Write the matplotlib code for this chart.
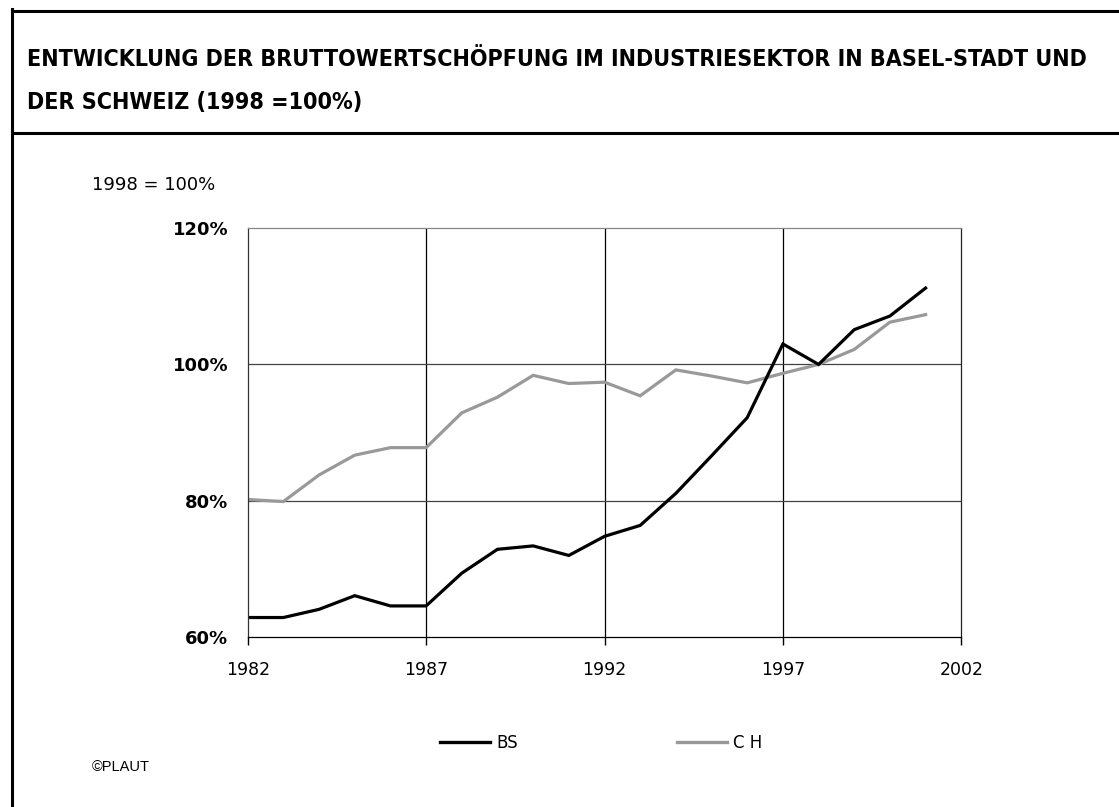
import matplotlib
matplotlib.use("Agg")
import matplotlib.pyplot as plt
from matplotlib.lines import Line2D

# data (index 1998 = 100%)
years = list(range(1982, 2002))
bs = [62.9, 62.9, 64.1, 66.1, 64.6, 64.6, 69.4, 72.9, 73.4, 72.0,
      74.8, 76.4, 81.1, 86.6, 92.2, 103.0, 100.0, 105.1, 107.1, 111.2]
ch = [80.2, 79.9, 83.8, 86.7, 87.8, 87.8, 92.9, 95.2, 98.4, 97.2,
      97.4, 95.4, 99.2, 98.3, 97.3, 98.7, 100.0, 102.2, 106.2, 107.3]
xticks = [1982, 1987, 1992, 1997, 2002]
yticks = [60, 80, 100, 120]
series_names = ["BS", "C H"]
title_lines = ["ENTWICKLUNG DER BRUTTOWERTSCHÖPFUNG IM INDUSTRIESEKTOR IN BASEL-STADT UND",
               "DER SCHWEIZ (1998 =100%)"]

W, H = 1119, 807
fig = plt.figure(figsize=(W / 100, H / 100), dpi=100)

# outer frame and header divider
fig.add_artist(Line2D([11.5 / W, 11.5 / W], [0, 1 - 9 / H], color="black", lw=2.2))
fig.add_artist(Line2D([11.5 / W, 1], [1 - 10.5 / H, 1 - 10.5 / H], color="black", lw=2.2))
fig.add_artist(Line2D([11.5 / W, 1], [1 - 133 / H, 1 - 133 / H], color="black", lw=2.2))

for txt, yc in zip(title_lines, [57.5, 100.5]):
    fig.text(27 / W, 1 - yc / H, txt, fontsize=16.7, fontweight="bold",
             family="DejaVu Sans", stretch="condensed", va="center_baseline", ha="left")

left, right = 247.7 / W, 961.3 / W
top, bottom = 1 - 228 / H, 1 - 637.3 / H
ax = fig.add_axes([left, bottom, right - left, top - bottom])

ax.plot(years, ch, color="#999999", lw=2.3, solid_joinstyle="miter", label=series_names[1])
ax.plot(years, bs, color="black", lw=2.3, solid_joinstyle="miter", label=series_names[0])

ax.set_xlim(1982, 2002)
ax.set_ylim(60, 120)
ax.set_xticks(xticks)
ax.set_yticks(yticks)
ax.set_yticklabels([f"{v}%" for v in yticks], fontweight="bold", fontsize=13)
ax.set_xticklabels([str(v) for v in xticks], fontsize=12.5)
ax.tick_params(axis="y", length=0, pad=14)
ax.tick_params(axis="x", length=6, width=1, direction="out", pad=11, color="black")

for v in [1987, 1992, 1997]:
    ax.axvline(v, color="black", lw=0.9, zorder=0)
for v in [80, 100]:
    ax.axhline(v, color="#444444", lw=0.9, zorder=0)
ax.spines["left"].set_color("#333333")
ax.spines["bottom"].set_color("black")
ax.spines["top"].set_color("#888888")
ax.spines["right"].set_color("#222222")
for s in ax.spines.values():
    s.set_linewidth(0.9)

fig.text(92 / W, 1 - 185 / H, "1998 = 100%", fontsize=13, va="center", ha="left")
fig.text(92 / W, 1 - 767 / H, "©PLAUT", fontsize=10.5, va="center", ha="left",
         family="Liberation Sans")

h_bs = Line2D([0], [0], color="black", lw=2.4)
h_ch = Line2D([0], [0], color="#999999", lw=2.4)
fig.legend([h_bs, h_ch], series_names, loc="center left", bbox_to_anchor=(440 / W, 1 - 743 / H),
           ncol=2, frameon=False, borderpad=0, borderaxespad=0, handlelength=3.0,
           handletextpad=0.4, columnspacing=9.5, fontsize=12)

fig.savefig("out.png", dpi=100, facecolor="white")
